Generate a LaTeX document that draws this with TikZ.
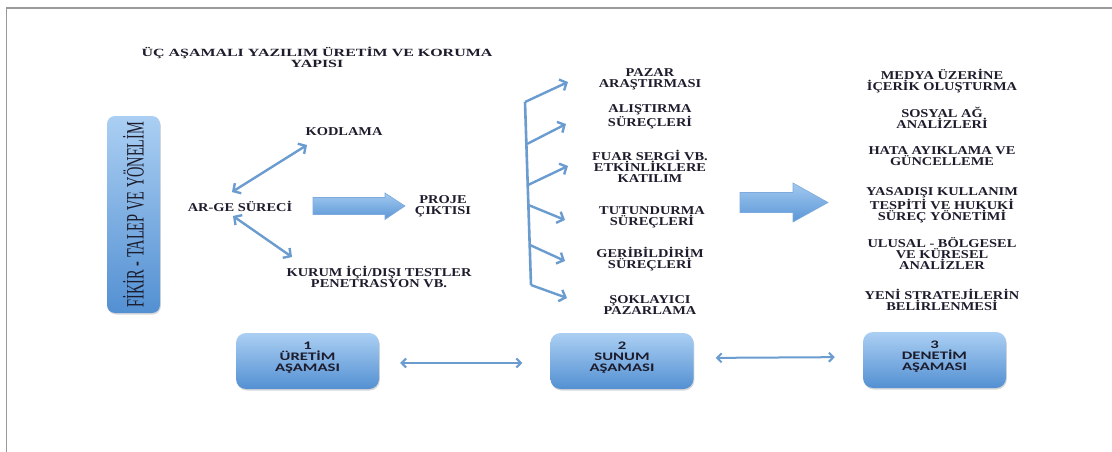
\documentclass[tikz,border=0pt]{standalone}
\usepackage{fontspec}
\setmainfont{Liberation Serif}
\newfontfamily\lblfont[FakeStretch=1.2]{Liberation Serif}
\newfontfamily\ttlfont[FakeStretch=1.45]{Liberation Serif}
\newfontfamily\vfont[FakeStretch=0.575]{Liberation Serif}
\newfontfamily\bxfont[FakeStretch=1.45]{Carlito}
\usetikzlibrary{arrows.meta,shadows}
\definecolor{txt}{HTML}{1C1C2C}
\definecolor{conncol}{HTML}{6B9CCF}
\definecolor{btop}{HTML}{ABCFF3}
\definecolor{bbot}{HTML}{5390D2}
\definecolor{aedge}{HTML}{7DAADC}
\definecolor{atop}{HTML}{A2C9F0}
\definecolor{abot}{HTML}{5A96D6}
\tikzset{
  lbl/.style={text=txt, font={\lblfont\bfseries\fontsize{12}{11}\selectfont}, align=center, inner sep=0pt},
  ttl/.style={text=txt, font={\ttlfont\bfseries\fontsize{11}{11}\selectfont}, align=center, inner sep=0pt},
  stagebox/.style={rounded corners=10pt, top color=btop, bottom color=bbot, draw=none,
     drop shadow={opacity=0.3, shadow xshift=0.8pt, shadow yshift=-1.5pt},
     text=txt, font={\bxfont\bfseries\fontsize{11.5}{11}\selectfont}, align=center,
     minimum width=143pt, minimum height=56pt, inner sep=0pt},
  link/.style={draw=conncol, line width=2.4pt, {Straight Barb[length=5.5pt,width=12pt]}-{Straight Barb[length=5.5pt,width=12pt]}},
  branch/.style={draw=conncol, line width=2.4pt, -{Straight Barb[length=5.5pt,width=12pt]}},
  spine/.style={draw=conncol, line width=2.6pt},
  flat/.style={draw=conncol, line width=2pt, {Straight Barb[length=4.5pt,width=9pt]}-{Straight Barb[length=4.5pt,width=9pt]}},
  bigarrow/.style={top color=atop, bottom color=abot, draw=aedge, line width=0.6pt}
}
\begin{document}
\begin{tikzpicture}[x=1pt,y=-1pt]
\useasboundingbox (0,0) rectangle (1112,452);
\fill[white] (0,0) rectangle (1112,452);
% frame lines
\draw[gray!80, line width=1.6pt] (6.5,452) -- (6.5,8) -- (1112,8);

% title
\node[ttl] (title) at (317,57) {ÜÇ AŞAMALI YAZILIM ÜRETİM VE KORUMA\\YAPISI};

% vertical box
\node[rounded corners=8pt, top color=btop, bottom color=bbot, draw=none,
      drop shadow={opacity=0.3, shadow xshift=0.8pt, shadow yshift=-1.5pt},
      minimum width=197pt, minimum height=53pt, rotate=90, inner sep=0pt,
      text=txt, font={\vfont\fontsize{25}{25}\selectfont}] (fikir) at (133.5,214.5) {FİKİR - TALEP VE YÖNELİM};

% left part
\node[lbl] (arge) at (240,206) {AR-GE SÜRECİ};
\node[lbl] (kod) at (344,132) {KODLAMA};
\node[lbl] (kurum) at (379,277) {KURUM İÇİ/DIŞI TESTLER\\PENETRASYON VB.};
\node[lbl] (proje) at (443,206) {PROJE\\ÇIKTISI};

\coordinate (a1s) at (232,192);
\coordinate (a1e) at (307,145);
\coordinate (a2s) at (233,216);
\coordinate (a2e) at (292,257);
\draw[link] (a1s) -- (a1e);
\draw[link] (a2s) -- (a2e);

% big arrow 1
\draw[bigarrow] (313,197.5) -- (385,197.5) -- (385,193) -- (405,206) -- (385,219.5) -- (385,214.5) -- (313,214.5) -- cycle;

% middle column
\node[lbl] (m1) at (650,79) {PAZAR\\ARAŞTIRMASI};
\node[lbl] (m2) at (650,117) {ALIŞTIRMA\\SÜREÇLERİ};
\node[lbl] (m3) at (650,166) {FUAR SERGİ VB.\\ETKİNLİKLERE\\KATILIM};
\node[lbl] (m4) at (652,217) {TUTUNDURMA\\SÜREÇLERİ};
\node[lbl] (m5) at (650,259) {GERİBİLDİRİM\\SÜREÇLERİ};
\node[lbl] (m6) at (650,305) {ŞOKLAYICI\\PAZARLAMA};

\coordinate (s1) at (525,102);
\coordinate (s2) at (527,144);
\coordinate (s3) at (528,185);
\coordinate (s4) at (528.5,205);
\coordinate (s5) at (530,245);
\coordinate (s6) at (531,285);
\coordinate (t1) at (568,82);
\coordinate (t2) at (566,124);
\coordinate (t3) at (568,166);
\coordinate (t4) at (565,220);
\coordinate (t5) at (565,261);
\coordinate (t6) at (567,298);
\draw[spine] (s1) -- (s6);
\draw[branch] (s1) -- (t1);
\draw[branch] (s2) -- (t2);
\draw[branch] (s3) -- (t3);
\draw[branch] (s4) -- (t4);
\draw[branch] (s5) -- (t5);
\draw[branch] (s6) -- (t6);

% big arrow 2
\draw[bigarrow] (740,192.5) -- (793,192.5) -- (793,183) -- (828,202.5) -- (793,222) -- (793,212.5) -- (740,212.5) -- cycle;

% right column
\node[lbl] (r1) at (942,81) {MEDYA ÜZERİNE\\İÇERİK OLUŞTURMA};
\node[lbl] (r2) at (942,118) {SOSYAL AĞ\\ANALİZLERİ};
\node[lbl] (r3) at (942,156) {HATA AYIKLAMA VE\\GÜNCELLEME};
\node[lbl] (r4) at (942,205) {YASADIŞI KULLANIM\\TESPİTİ VE HUKUKİ\\SÜREÇ YÖNETİMİ};
\node[lbl] (r5) at (942,254) {ULUSAL - BÖLGESEL\\VE KÜRESEL\\ANALİZLER};
\node[lbl] (r6) at (942,300) {YENİ STRATEJİLERİN\\BELİRLENMESİ};

% stage boxes
\node[stagebox] (b1) at (307.5,361) {1\\ÜRETİM\\AŞAMASI\\[-6pt]\strut};
\node[stagebox] (b2) at (622,361) {2\\SUNUM\\AŞAMASI\\[-6pt]\strut};
\node[stagebox] (b3) at (934.5,360) {3\\DENETİM\\AŞAMASI\\[-6pt]\strut};

\draw[flat, shorten <=21pt, shorten >=28pt] ([yshift=-2pt]b1.east) -- ([yshift=-2pt]b2.west);
\draw[flat, shorten <=22pt, shorten >=28pt] ([yshift=3pt]b2.east) -- ([yshift=3pt]b3.west);
\end{tikzpicture}
\end{document}
